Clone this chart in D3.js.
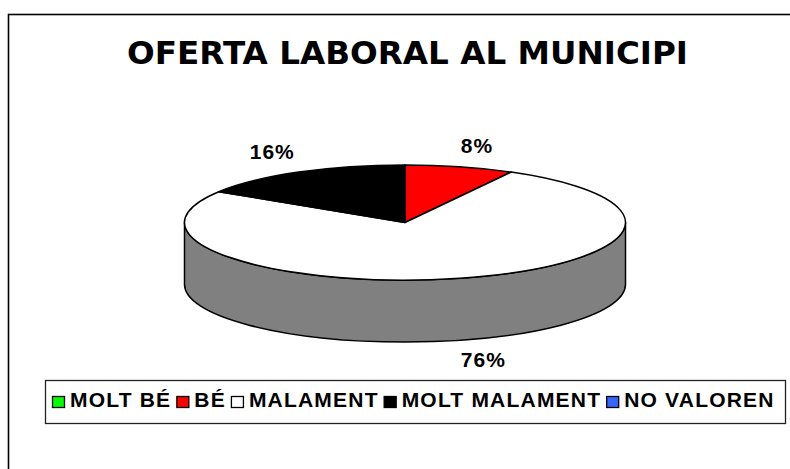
<!DOCTYPE html>
<html><head><meta charset="utf-8">
<script src="https://cdn.jsdelivr.net/npm/d3@7/dist/d3.min.js"></script>
<style>body{margin:0;background:#fff;}svg{display:block;}</style>
</head><body>
<svg id="chart" width="790" height="469"></svg>
<script>
const title = "OFERTA LABORAL AL MUNICIPI";
const categories = ["MOLT BÉ", "BÉ", "MALAMENT", "MOLT MALAMENT", "NO VALOREN"];
const values = [0, 8, 76, 16, 0];
const labels = ["0%", "8%", "76%", "16%", "0%"];
const colors = ["#00ff00", "#ff0000", "#ffffff", "#000000", "#3366ff"];
const sideColors = ["#008000", "#800000", "#808080", "#000000", "#1a3380"];

const svg = d3.select("#chart");
const W = 790, H = 469;

// outer frame
svg.append("rect").attr("x", 8.5).attr("y", 14.5).attr("width", W + 10).attr("height", H + 10)
  .attr("fill", "#fff").attr("stroke", "#000").attr("stroke-width", 1.6);

// title
svg.append("text").attr("x", 407.5).attr("y", 64).attr("text-anchor", "middle")
  .attr("font-family", "DejaVu Sans").attr("font-weight", "bold").attr("font-size", 32)
  .attr("textLength", 561).attr("lengthAdjust", "spacingAndGlyphs")
  .text(title);

// 3D pie geometry
const cx = 405, cy = 222.5, rx = 220.5, ry = 57.5, depth = 62;
const pt = (a, dy = 0) => [cx + rx * Math.sin(a), cy - ry * Math.cos(a) + dy];

const pie = d3.pie().sort(null).value(d => d)(values);
const g = svg.append("g");

// side walls (front half: angles PI/2 .. 3PI/2)
pie.forEach((s, i) => {
  if (s.endAngle - s.startAngle <= 0) return;
  const a0 = Math.max(s.startAngle, Math.PI / 2), a1 = Math.min(s.endAngle, 3 * Math.PI / 2);
  if (a1 <= a0) return;
  const p0 = pt(a0), p1 = pt(a1), q1 = pt(a1, depth), q0 = pt(a0, depth);
  const large = (a1 - a0) > Math.PI ? 1 : 0;
  const d = `M${p0}A${rx},${ry} 0 ${large} 1 ${p1}L${q1}A${rx},${ry} 0 ${large} 0 ${q0}Z`;
  g.append("path").attr("d", d).attr("fill", sideColors[i])
    .attr("stroke", "#000").attr("stroke-width", 1.5).attr("stroke-linejoin", "round");
});

// top faces
pie.forEach((s, i) => {
  if (s.endAngle - s.startAngle <= 0) return;
  const p0 = pt(s.startAngle), p1 = pt(s.endAngle);
  const large = (s.endAngle - s.startAngle) > Math.PI ? 1 : 0;
  const d = `M${cx},${cy}L${p0}A${rx},${ry} 0 ${large} 1 ${p1}Z`;
  g.append("path").attr("d", d).attr("fill", colors[i])
    .attr("stroke", "#000").attr("stroke-width", 1.5).attr("stroke-linejoin", "round");
});

// data labels: anchored at a corner near the rim point of each slice's mid-angle
pie.forEach((s, i) => {
  if (s.endAngle - s.startAngle <= 0) return;
  const m = (s.startAngle + s.endAngle) / 2;
  const front = Math.cos(m) < 0;
  const [px, py] = pt(m, front ? depth : 0);
  const right = Math.sin(m) >= 0;
  svg.append("text")
    .attr("x", right ? px + 1 : px - 4)
    .attr("y", front ? py + 27 : py - 13.5)
    .attr("text-anchor", right ? "start" : "end")
    .attr("font-family", "Liberation Sans, Arial").attr("font-weight", "bold")
    .attr("font-size", 21).attr("letter-spacing", 1).text(labels[i]);
});

// legend
svg.append("rect").attr("x", 45.5).attr("y", 380.5).attr("width", 740).attr("height", 43)
  .attr("fill", "#fff").attr("stroke", "#222").attr("stroke-width", 1.3);
const lg = svg.append("g");
let lx = 52;
categories.forEach((c, i) => {
  lg.append("rect").attr("x", lx + 0.5).attr("y", 396.5).attr("width", 12).attr("height", 11)
    .attr("fill", colors[i]).attr("stroke", "#000").attr("stroke-width", 1.3);
  const t = lg.append("text").attr("x", lx + 18).attr("y", 407)
    .attr("font-family", "Liberation Sans, Arial").attr("font-weight", "bold")
    .attr("font-size", 21).attr("letter-spacing", 1.2).text(c);
  lx += 18 + t.node().getComputedTextLength() + 5;
});
</script>
</body></html>
